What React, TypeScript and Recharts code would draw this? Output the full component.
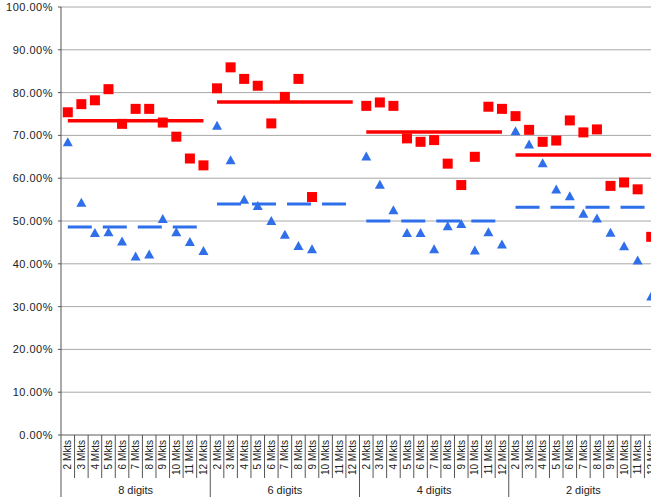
import React from 'react';
import { ComposedChart, Line, XAxis, YAxis, CartesianGrid } from 'recharts';

const groups = ['8 digits', '6 digits', '4 digits', '2 digits'];
const markets = ['2 Mkts', '3 Mkts', '4 Mkts', '5 Mkts', '6 Mkts', '7 Mkts', '8 Mkts', '9 Mkts', '10 Mkts', '11 Mkts', '12 Mkts'];
const yTicks = [0, 10, 20, 30, 40, 50, 60, 70, 80, 90, 100];

// red squares per group (2..12 Mkts), in %
const red8 = [75.4, 77.3, 78.2, 80.8, 72.7, 76.2, 76.2, 73.0, 69.7, 64.6, 63.0];
const red6 = [81.0, 85.9, 83.2, 81.6, 72.8, 79.0, 83.2, 55.6, null, null, null];
const red4 = [76.9, 77.7, 76.9, 69.3, 68.5, 68.9, 63.4, 58.4, 65.0, 76.7, 76.2];
const red2 = [74.5, 71.3, 68.5, 68.8, 73.5, 70.7, 71.4, 58.2, 59.0, 57.4, 46.3];

// blue triangles per group
const blue8 = [68.5, 54.4, 47.3, 47.5, 45.3, 41.8, 42.3, 50.6, 47.5, 45.2, 43.1];
const blue6 = [72.4, 64.3, 55.1, 53.6, 50.1, 46.9, 44.3, 43.5, null, null, null];
const blue4 = [65.2, 58.6, 52.6, 47.3, 47.3, 43.5, 48.9, 49.4, 43.2, 47.5, 44.6];
const blue2 = [71.1, 68.0, 63.6, 57.5, 55.9, 51.8, 50.7, 47.4, 44.2, 40.9, 32.5];

// group average lines
const redMean = [73.4, 77.8, 70.8, 65.4];
const blueMean = [48.6, 54.0, 50.0, 53.2];

const redSets = [red8, red6, red4, red2];
const blueSets = [blue8, blue6, blue4, blue2];

const data = groups.flatMap((g, gi) =>
  markets.map((m, mi) => {
    const row: any = { key: `${g}|${m}`, red: redSets[gi][mi], blue: blueSets[gi][mi] };
    groups.forEach((_, k) => {
      row['r' + k] = k === gi ? redMean[gi] : null;
      row['b' + k] = k === gi ? blueMean[gi] : null;
    });
    return row;
  })
);

const CHART_W = 660;
const CHART_H = 502;
const Y_W = 61;
const M_RIGHT = 2;
const BAND = (CHART_W - Y_W - M_RIGHT) / data.length;
const FONT = '"Liberation Sans", Arial, sans-serif';

const RED = '#ff0000';
const BLUE = '#2f6fea';

const MarketTick = (props: any) => {
  const { x, y, index } = props;
  const left = x - BAND / 2;
  const first = index % 11 === 0;
  const ty = y + 5;
  return (
    <g>
      <line x1={left} x2={left} y1={y} y2={y + (first ? 62 : 43)} stroke="#555" />
      <text
        x={x}
        y={ty}
        transform={`rotate(-90, ${x}, ${ty})`}
        textAnchor="end"
        dy="0.36em"
        fontSize={10}
        fontFamily={FONT}
        fill="#222"
      >
        {markets[index % 11]}
      </text>
      {index % 11 === 5 && (
        <text x={x} y={y + 59} textAnchor="middle" fontSize={11} fontFamily={FONT} fill="#222">
          {groups[Math.floor(index / 11)]}
        </text>
      )}
    </g>
  );
};

const squareDot = (props: any) => {
  const { cx, cy, value, index } = props;
  if (value == null || cy == null) return <g key={'s' + index} />;
  return <rect key={'s' + index} x={cx - 5} y={cy - 5} width={10} height={10} fill={RED} />;
};

const triangleDot = (props: any) => {
  const { cx, cy, value, index } = props;
  if (value == null || cy == null) return <g key={'t' + index} />;
  const pts = `${cx},${cy - 4.5} ${cx + 5},${cy + 4.5} ${cx - 5},${cy + 4.5}`;
  return <polygon key={'t' + index} points={pts} fill={BLUE} />;
};

export default function App() {
  return (
    <div style={{ position: 'absolute', left: 0, top: 0, width: 651, height: 502, overflow: 'hidden', background: '#fff' }}>
      <ComposedChart width={CHART_W} height={CHART_H} data={data} margin={{ top: 7, right: M_RIGHT, bottom: 0, left: 0 }}>
        <CartesianGrid vertical={false} stroke="#a8a8a8" />
        <XAxis
          dataKey="key"
          interval={0}
          height={67}
          padding={{ left: BAND / 2, right: BAND / 2 }}
          tickSize={0}
          tickMargin={0}
          tickLine={false}
          axisLine={{ stroke: '#888' }}
          tick={<MarketTick />}
        />
        <YAxis
          width={Y_W}
          domain={[0, 100]}
          ticks={yTicks}
          tickFormatter={(v: number) => `${v.toFixed(2)}%`}
          tickSize={3}
          tickMargin={5}
          axisLine={{ stroke: '#555' }}
          tickLine={{ stroke: '#555' }}
          tick={{ fill: '#222', fontSize: 11, fontFamily: FONT, letterSpacing: 0.5 }}
        />
        {groups.map((_, k) => (
          <Line key={'r' + k} dataKey={'r' + k} stroke={RED} strokeWidth={3.5} dot={false} activeDot={false} isAnimationActive={false} />
        ))}
        {groups.map((_, k) => (
          <Line key={'b' + k} dataKey={'b' + k} stroke={BLUE} strokeWidth={3} strokeDasharray="24 11" dot={false} activeDot={false} isAnimationActive={false} />
        ))}
        <Line dataKey="blue" stroke="none" dot={triangleDot} activeDot={false} isAnimationActive={false} />
        <Line dataKey="red" stroke="none" dot={squareDot} activeDot={false} isAnimationActive={false} />
      </ComposedChart>
    </div>
  );
}
